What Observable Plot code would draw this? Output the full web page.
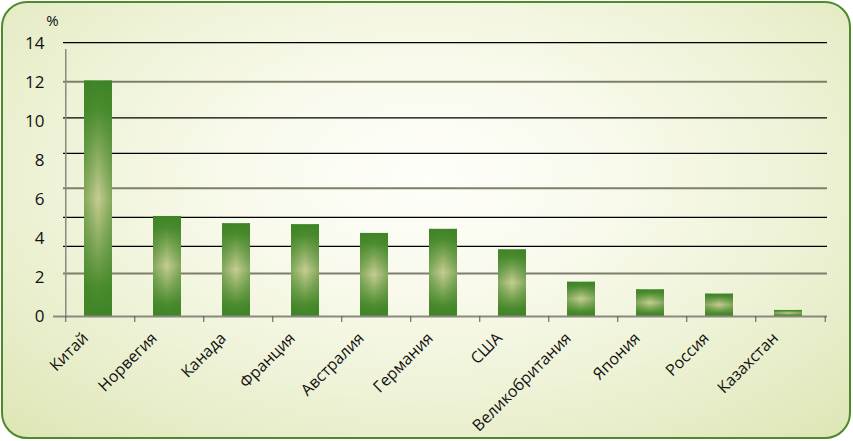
<!DOCTYPE html>
<html>
<head>
<meta charset="utf-8">
<script src="https://cdn.jsdelivr.net/npm/d3@7"></script>
<script src="https://cdn.jsdelivr.net/npm/@observablehq/plot@0.6"></script>
<style>
  html, body { margin: 0; padding: 0; background: #ffffff; }
  #wrap { position: relative; width: 853px; height: 441px; overflow: hidden; }
  #bg {
    position: absolute; left: 1px; top: 1px; width: 850px; height: 438px;
    box-sizing: border-box; border: 2.5px solid #4e8a2c; border-radius: 26px;
    background: radial-gradient(ellipse 75% 85% at 50% 40%, #fefefa 0%, #f9faec 30%, #eef2d6 60%, #dce5b3 100%);
  }
  #chart { position: absolute; left: 0; top: 0; }
</style>
</head>
<body>
<div id="wrap"><div id="bg"></div><div id="chart"></div></div>
<script>
const categories = ["Китай", "Норвегия", "Канада", "Франция", "Австралия", "Германия", "США", "Великобритания", "Япония", "Россия", "Казахстан"];
const values = [12.08, 5.13, 4.76, 4.71, 4.26, 4.47, 3.42, 1.76, 1.37, 1.15, 0.31];
const yTicks = [0, 2, 4, 6, 8, 10, 12, 14];
const darkGrid = [14.05, 10.19, 8.37, 5.08, 3.6];
const greyGrid = [12.04, 6.58, 2.21];
const yUnit = "%";

const data = categories.map((c, i) => ({country: c, value: values[i]}));

const W = 853, H = 441, mL = 63, mR = 26, mT = 43, mB = 125;
const step = (W - mL - mR) / categories.length;
const font = "'Open Sans', sans-serif";

const defs = () => {
  const d = d3.create("svg:defs");
  const v = d.append("linearGradient").attr("id", "gV").attr("x1", 0).attr("y1", 0).attr("x2", 0).attr("y2", 1);
  [[0, "#3e8427"], [0.12, "#4b8c2e"], [0.5, "#c7cd92"], [0.88, "#4b8c2e"], [1, "#3e8427"]]
    .forEach(([o, c]) => v.append("stop").attr("offset", o).attr("stop-color", c));
  const h = d.append("linearGradient").attr("id", "gH").attr("x1", 0).attr("y1", 0).attr("x2", 1).attr("y2", 0);
  [[0, "#3e8427", 0.5], [0.5, "#3e8427", 0], [1, "#3e8427", 0.5]]
    .forEach(([o, c, a]) => h.append("stop").attr("offset", o).attr("stop-color", c).attr("stop-opacity", a));
  return d.node();
};

const chart = Plot.plot({
  width: W, height: H,
  marginLeft: mL, marginRight: mR, marginTop: mT, marginBottom: mB,
  style: {background: "transparent", fontFamily: font, overflow: "visible"},
  x: {domain: categories, paddingInner: 0.6, paddingOuter: 0.3, axis: null},
  y: {domain: [0, 14], axis: null},
  marks: [
    defs,
    Plot.ruleY(darkGrid, {stroke: "#000", strokeWidth: 1.3}),
    Plot.ruleY(greyGrid, {stroke: "#7d7f6a", strokeWidth: 2}),
    Plot.barY(data, {x: "country", y: "value", fill: "url(#gV)", dx: -2}),
    Plot.barY(data, {x: "country", y: "value", fill: "url(#gH)", dx: -2}),
    Plot.ruleX([categories[0]], {x: d => d, y1: 0, y2: 14.05, dx: -step / 2, insetBottom: -7, stroke: "#8a8a80", strokeWidth: 1.5}),
    Plot.ruleY([0], {stroke: "#8a8a80", strokeWidth: 1.8, insetLeft: -10}),
    Plot.axisX({tickSize: 6, fill: "none", stroke: "#555", dx: -step / 2, tickPadding: 0}),
    Plot.axisX({ticks: [categories[categories.length - 1]], tickSize: 6, fill: "none", stroke: "#555", dx: step / 2}),
    Plot.axisX({tickSize: 0, tickRotate: -45, tickPadding: 19, fontSize: 16, fill: "#111", dx: -15, label: null}),
    Plot.axisY({ticks: yTicks, tickSize: 0, tickPadding: 19, fontSize: 17, fill: "#111", label: null}),
    Plot.text([yUnit], {frameAnchor: "top-left", dx: -11, dy: -28, fontSize: 15, fill: "#111", textAnchor: "middle"})
  ]
});
document.getElementById("chart").appendChild(chart);
</script>
</body>
</html>
